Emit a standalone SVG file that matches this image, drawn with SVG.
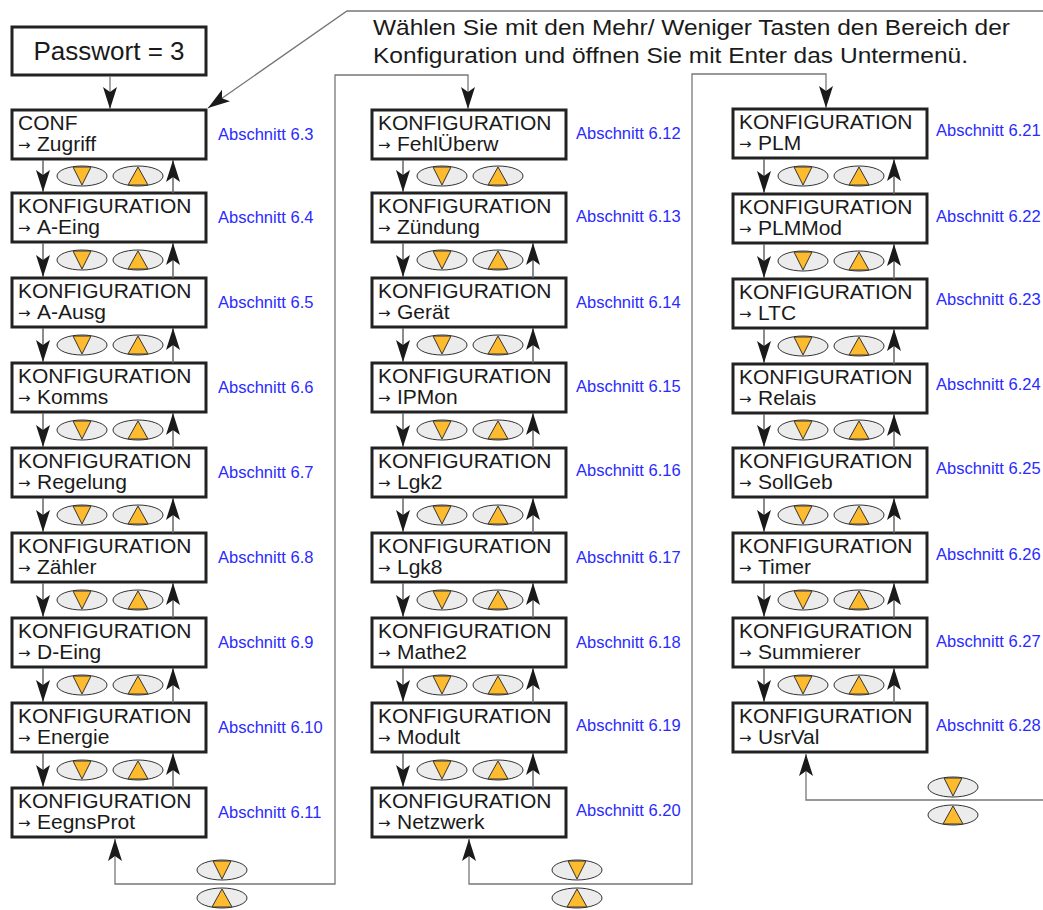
<svg xmlns="http://www.w3.org/2000/svg" xmlns:xlink="http://www.w3.org/1999/xlink" width="1043" height="910" viewBox="0 0 1043 910">
<style>
.box{fill:#fff;stroke:#222;stroke-width:3}
.t1{font-family:"Liberation Sans",Arial,sans-serif;font-size:21px;fill:#1a1a1a}
.ar{font-family:"DejaVu Sans",sans-serif;font-size:15px;fill:#1a1a1a}
.ab{font-family:"Liberation Sans",Arial,sans-serif;font-size:16.5px;fill:#2a2aff}
.hd{font-family:"Liberation Sans",Arial,sans-serif;font-size:22px;fill:#1a1a1a}
.ln{fill:none;stroke:#666;stroke-width:1.5;marker-end:url(#ah)}
.lp{fill:none;stroke:#777;stroke-width:1.3}
.lpa{fill:none;stroke:#777;stroke-width:1.3;marker-end:url(#ah)}
.el{fill:#ececec;stroke:#333;stroke-width:1}
.tr{fill:#fdbb2d;stroke:#333;stroke-width:1}
</style>
<defs>
<marker id="ah" viewBox="0 0 22 14" refX="22" refY="7" markerWidth="22" markerHeight="14" markerUnits="userSpaceOnUse" orient="auto"><path d="M0,0 L22,7 L0,14 L5,7 Z" fill="#1a1a1a"/></marker>
<g id="bd"><ellipse class="el" cx="0" cy="0" rx="25" ry="10"/><polygon class="tr" points="-9,-9 9,-9 0,9"/></g>
<g id="bu"><ellipse class="el" cx="0" cy="0" rx="25" ry="10"/><polygon class="tr" points="-10,9 10,9 0,-9"/></g>
</defs>

<g id="note">
<text class="hd" x="373" y="35" textLength="637" lengthAdjust="spacingAndGlyphs">Wählen Sie mit den Mehr/ Weniger Tasten den Bereich der</text>
<text class="hd" x="373" y="63" textLength="595" lengthAdjust="spacingAndGlyphs">Konfiguration und öffnen Sie mit Enter das Untermenü.</text>
</g>

<g id="passwort"><rect class="box" x="12" y="27" width="194" height="48"/><text x="109" y="60" text-anchor="middle" style="font-family:'Liberation Sans',Arial,sans-serif;font-size:26px;fill:#1a1a1a">Passwort = 3</text></g>

<!-- Column 1 -->
<g id="n-zugriff"><rect class="box" x="12" y="110" width="194" height="49"/><text class="t1" x="18" y="130">CONF</text><text class="ar" x="18" y="150">→</text><text class="t1" x="37" y="151">Zugriff</text><text class="ab" x="218" y="140">Abschnitt 6.3</text></g>
<g id="n-aeing"><rect class="box" x="12" y="193" width="194" height="49"/><text class="t1" x="18" y="213">KONFIGURATION</text><text class="ar" x="18" y="233">→</text><text class="t1" x="37" y="234">A-Eing</text><text class="ab" x="218" y="223">Abschnitt 6.4</text></g>
<g id="n-aausg"><rect class="box" x="12" y="278" width="194" height="49"/><text class="t1" x="18" y="298">KONFIGURATION</text><text class="ar" x="18" y="318">→</text><text class="t1" x="37" y="319">A-Ausg</text><text class="ab" x="218" y="308">Abschnitt 6.5</text></g>
<g id="n-komms"><rect class="box" x="12" y="363" width="194" height="49"/><text class="t1" x="18" y="383">KONFIGURATION</text><text class="ar" x="18" y="403">→</text><text class="t1" x="37" y="404">Komms</text><text class="ab" x="218" y="393">Abschnitt 6.6</text></g>
<g id="n-regelung"><rect class="box" x="12" y="448" width="194" height="49"/><text class="t1" x="18" y="468">KONFIGURATION</text><text class="ar" x="18" y="488">→</text><text class="t1" x="37" y="489">Regelung</text><text class="ab" x="218" y="478">Abschnitt 6.7</text></g>
<g id="n-zaehler"><rect class="box" x="12" y="533" width="194" height="49"/><text class="t1" x="18" y="553">KONFIGURATION</text><text class="ar" x="18" y="573">→</text><text class="t1" x="37" y="574">Zähler</text><text class="ab" x="218" y="563">Abschnitt 6.8</text></g>
<g id="n-deing"><rect class="box" x="12" y="618" width="194" height="49"/><text class="t1" x="18" y="638">KONFIGURATION</text><text class="ar" x="18" y="658">→</text><text class="t1" x="37" y="659">D-Eing</text><text class="ab" x="218" y="648">Abschnitt 6.9</text></g>
<g id="n-energie"><rect class="box" x="12" y="703" width="194" height="49"/><text class="t1" x="18" y="723">KONFIGURATION</text><text class="ar" x="18" y="743">→</text><text class="t1" x="37" y="744">Energie</text><text class="ab" x="218" y="733">Abschnitt 6.10</text></g>
<g id="n-eegnsprot"><rect class="box" x="12" y="788" width="194" height="49"/><text class="t1" x="18" y="808">KONFIGURATION</text><text class="ar" x="18" y="828">→</text><text class="t1" x="37" y="829">EegnsProt</text><text class="ab" x="218" y="818">Abschnitt 6.11</text></g>

<!-- Column 2 -->
<g id="n-fehlueberw"><rect class="box" x="372" y="110" width="194" height="49"/><text class="t1" x="378" y="130">KONFIGURATION</text><text class="ar" x="378" y="150">→</text><text class="t1" x="397" y="151">FehlÜberw</text><text class="ab" x="576" y="139">Abschnitt 6.12</text></g>
<g id="n-zuendung"><rect class="box" x="372" y="193" width="194" height="49"/><text class="t1" x="378" y="213">KONFIGURATION</text><text class="ar" x="378" y="233">→</text><text class="t1" x="397" y="234">Zündung</text><text class="ab" x="576" y="222">Abschnitt 6.13</text></g>
<g id="n-geraet"><rect class="box" x="372" y="278" width="194" height="49"/><text class="t1" x="378" y="298">KONFIGURATION</text><text class="ar" x="378" y="318">→</text><text class="t1" x="397" y="319">Gerät</text><text class="ab" x="576" y="308">Abschnitt 6.14</text></g>
<g id="n-ipmon"><rect class="box" x="372" y="363" width="194" height="49"/><text class="t1" x="378" y="383">KONFIGURATION</text><text class="ar" x="378" y="403">→</text><text class="t1" x="397" y="404">IPMon</text><text class="ab" x="576" y="392">Abschnitt 6.15</text></g>
<g id="n-lgk2"><rect class="box" x="372" y="448" width="194" height="49"/><text class="t1" x="378" y="468">KONFIGURATION</text><text class="ar" x="378" y="488">→</text><text class="t1" x="397" y="489">Lgk2</text><text class="ab" x="576" y="476">Abschnitt 6.16</text></g>
<g id="n-lgk8"><rect class="box" x="372" y="533" width="194" height="49"/><text class="t1" x="378" y="553">KONFIGURATION</text><text class="ar" x="378" y="573">→</text><text class="t1" x="397" y="574">Lgk8</text><text class="ab" x="576" y="563">Abschnitt 6.17</text></g>
<g id="n-mathe2"><rect class="box" x="372" y="618" width="194" height="49"/><text class="t1" x="378" y="638">KONFIGURATION</text><text class="ar" x="378" y="658">→</text><text class="t1" x="397" y="659">Mathe2</text><text class="ab" x="576" y="648">Abschnitt 6.18</text></g>
<g id="n-modult"><rect class="box" x="372" y="703" width="194" height="49"/><text class="t1" x="378" y="723">KONFIGURATION</text><text class="ar" x="378" y="743">→</text><text class="t1" x="397" y="744">Modult</text><text class="ab" x="576" y="731">Abschnitt 6.19</text></g>
<g id="n-netzwerk"><rect class="box" x="372" y="788" width="194" height="49"/><text class="t1" x="378" y="808">KONFIGURATION</text><text class="ar" x="378" y="828">→</text><text class="t1" x="397" y="829">Netzwerk</text><text class="ab" x="576" y="816">Abschnitt 6.20</text></g>

<!-- Column 3 -->
<g id="n-plm"><rect class="box" x="733" y="109" width="194" height="49"/><text class="t1" x="739" y="129">KONFIGURATION</text><text class="ar" x="739" y="149">→</text><text class="t1" x="758" y="150">PLM</text><text class="ab" x="936" y="136">Abschnitt 6.21</text></g>
<g id="n-plmmod"><rect class="box" x="733" y="194" width="194" height="49"/><text class="t1" x="739" y="214">KONFIGURATION</text><text class="ar" x="739" y="234">→</text><text class="t1" x="758" y="235">PLMMod</text><text class="ab" x="936" y="222">Abschnitt 6.22</text></g>
<g id="n-ltc"><rect class="box" x="733" y="279" width="194" height="49"/><text class="t1" x="739" y="299">KONFIGURATION</text><text class="ar" x="739" y="319">→</text><text class="t1" x="758" y="320">LTC</text><text class="ab" x="936" y="305">Abschnitt 6.23</text></g>
<g id="n-relais"><rect class="box" x="733" y="364" width="194" height="49"/><text class="t1" x="739" y="384">KONFIGURATION</text><text class="ar" x="739" y="404">→</text><text class="t1" x="758" y="405">Relais</text><text class="ab" x="936" y="390">Abschnitt 6.24</text></g>
<g id="n-sollgeb"><rect class="box" x="733" y="448" width="194" height="49"/><text class="t1" x="739" y="468">KONFIGURATION</text><text class="ar" x="739" y="488">→</text><text class="t1" x="758" y="489">SollGeb</text><text class="ab" x="936" y="474">Abschnitt 6.25</text></g>
<g id="n-timer"><rect class="box" x="733" y="533" width="194" height="49"/><text class="t1" x="739" y="553">KONFIGURATION</text><text class="ar" x="739" y="573">→</text><text class="t1" x="758" y="574">Timer</text><text class="ab" x="936" y="560">Abschnitt 6.26</text></g>
<g id="n-summierer"><rect class="box" x="733" y="618" width="194" height="49"/><text class="t1" x="739" y="638">KONFIGURATION</text><text class="ar" x="739" y="658">→</text><text class="t1" x="758" y="659">Summierer</text><text class="ab" x="936" y="647">Abschnitt 6.27</text></g>
<g id="n-usrval"><rect class="box" x="733" y="703" width="194" height="49"/><text class="t1" x="739" y="723">KONFIGURATION</text><text class="ar" x="739" y="743">→</text><text class="t1" x="758" y="744">UsrVal</text><text class="ab" x="936" y="731">Abschnitt 6.28</text></g>

<g id="buttons">
<use xlink:href="#bd" x="82" y="176"/><use xlink:href="#bu" x="138" y="176"/>
<use xlink:href="#bd" x="82" y="260"/><use xlink:href="#bu" x="138" y="260"/>
<use xlink:href="#bd" x="82" y="345"/><use xlink:href="#bu" x="138" y="345"/>
<use xlink:href="#bd" x="82" y="430"/><use xlink:href="#bu" x="138" y="430"/>
<use xlink:href="#bd" x="82" y="515"/><use xlink:href="#bu" x="138" y="515"/>
<use xlink:href="#bd" x="82" y="600"/><use xlink:href="#bu" x="138" y="600"/>
<use xlink:href="#bd" x="82" y="685"/><use xlink:href="#bu" x="138" y="685"/>
<use xlink:href="#bd" x="82" y="770"/><use xlink:href="#bu" x="138" y="770"/>
<use xlink:href="#bd" x="442" y="176"/><use xlink:href="#bu" x="498" y="176"/>
<use xlink:href="#bd" x="442" y="260"/><use xlink:href="#bu" x="498" y="260"/>
<use xlink:href="#bd" x="442" y="345"/><use xlink:href="#bu" x="498" y="345"/>
<use xlink:href="#bd" x="442" y="430"/><use xlink:href="#bu" x="498" y="430"/>
<use xlink:href="#bd" x="442" y="515"/><use xlink:href="#bu" x="498" y="515"/>
<use xlink:href="#bd" x="442" y="600"/><use xlink:href="#bu" x="498" y="600"/>
<use xlink:href="#bd" x="442" y="685"/><use xlink:href="#bu" x="498" y="685"/>
<use xlink:href="#bd" x="442" y="770"/><use xlink:href="#bu" x="498" y="770"/>
<use xlink:href="#bd" x="803" y="176"/><use xlink:href="#bu" x="859" y="176"/>
<use xlink:href="#bd" x="803" y="261"/><use xlink:href="#bu" x="859" y="261"/>
<use xlink:href="#bd" x="803" y="346"/><use xlink:href="#bu" x="859" y="346"/>
<use xlink:href="#bd" x="803" y="430"/><use xlink:href="#bu" x="859" y="430"/>
<use xlink:href="#bd" x="803" y="515"/><use xlink:href="#bu" x="859" y="515"/>
<use xlink:href="#bd" x="803" y="600"/><use xlink:href="#bu" x="859" y="600"/>
<use xlink:href="#bd" x="803" y="685"/><use xlink:href="#bu" x="859" y="685"/>
<use xlink:href="#bd" x="222" y="870"/><use xlink:href="#bu" x="222" y="898"/>
<use xlink:href="#bd" x="577" y="870"/><use xlink:href="#bu" x="577" y="898"/>
<use xlink:href="#bd" x="953" y="787"/><use xlink:href="#bu" x="953" y="815"/>
</g>

<g id="connectors">
<path class="lpa" d="M110 76 L110 109"/>
<path class="lpa" d="M1043 11 L347 11 L208 108"/>
<!-- column 1 -->
<path class="ln" d="M43 160 L43 192"/><path class="ln" d="M173 193 L173 160"/>
<path class="ln" d="M43 243 L43 277"/><path class="ln" d="M173 278 L173 243"/>
<path class="ln" d="M43 328 L43 362"/><path class="ln" d="M173 363 L173 328"/>
<path class="ln" d="M43 413 L43 447"/><path class="ln" d="M173 448 L173 413"/>
<path class="ln" d="M43 498 L43 532"/><path class="ln" d="M173 533 L173 498"/>
<path class="ln" d="M43 583 L43 617"/><path class="ln" d="M173 618 L173 583"/>
<path class="ln" d="M43 668 L43 702"/><path class="ln" d="M173 703 L173 668"/>
<path class="ln" d="M43 753 L43 787"/><path class="ln" d="M173 788 L173 753"/>
<!-- column 2 -->
<path class="ln" d="M403 160 L403 192"/>
<path class="ln" d="M403 243 L403 277"/><path class="ln" d="M533 278 L533 243"/>
<path class="ln" d="M403 328 L403 362"/><path class="ln" d="M533 363 L533 328"/>
<path class="ln" d="M403 413 L403 447"/><path class="ln" d="M533 448 L533 413"/>
<path class="ln" d="M403 498 L403 532"/><path class="ln" d="M533 533 L533 498"/>
<path class="ln" d="M403 583 L403 617"/><path class="ln" d="M533 618 L533 583"/>
<path class="ln" d="M403 668 L403 702"/><path class="ln" d="M533 703 L533 668"/>
<path class="ln" d="M403 753 L403 787"/><path class="ln" d="M533 788 L533 753"/>
<!-- column 3 -->
<path class="ln" d="M764 159 L764 193"/><path class="ln" d="M894 194 L894 159"/>
<path class="ln" d="M764 244 L764 278"/><path class="ln" d="M894 279 L894 244"/>
<path class="ln" d="M764 329 L764 363"/><path class="ln" d="M894 364 L894 329"/>
<path class="ln" d="M764 414 L764 447"/><path class="ln" d="M894 448 L894 414"/>
<path class="ln" d="M764 498 L764 532"/><path class="ln" d="M894 533 L894 498"/>
<path class="ln" d="M764 583 L764 617"/><path class="ln" d="M894 618 L894 583"/>
<path class="ln" d="M764 668 L764 702"/><path class="ln" d="M894 703 L894 668"/>
<!-- loops -->
<path class="lpa" d="M222 884 L115 884 L115 839"/>
<path class="lpa" d="M222 884 L335 884 L335 75 L468 75 L468 109"/>
<path class="lpa" d="M577 884 L469 884 L469 839"/>
<path class="lpa" d="M577 884 L692 884 L692 74 L826 74 L826 108"/>
<path class="lpa" d="M953 800 L806 800 L806 754"/>
<path class="lp" d="M953 800 L1043 800"/>
</g>
</svg>
